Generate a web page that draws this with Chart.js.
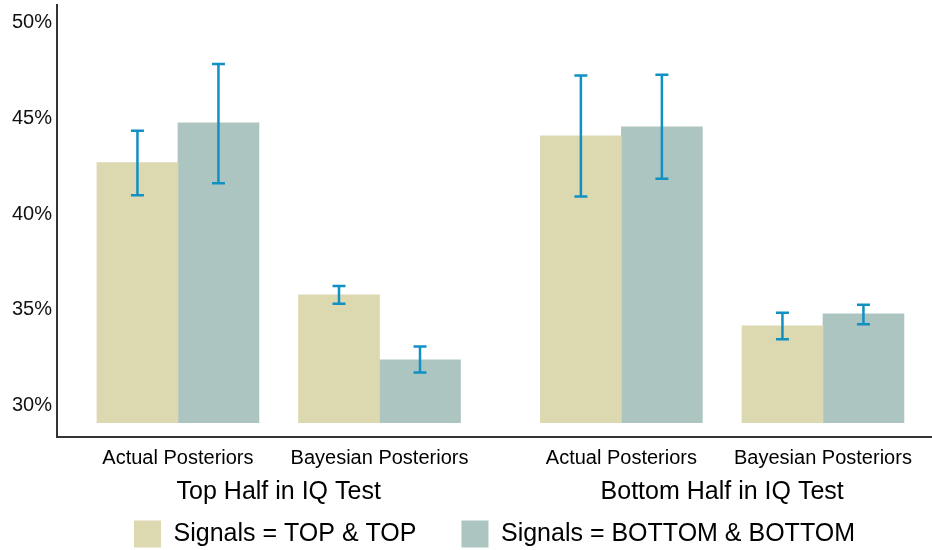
<!DOCTYPE html>
<html>
<head>
<meta charset="utf-8">
<script src="https://cdn.jsdelivr.net/npm/chart.js@4.4.1/dist/chart.umd.min.js"></script>
<style>
  html, body { margin: 0; padding: 0; background: #fff; }
  canvas { display: block; }
</style>
</head>
<body>
<canvas id="chart" width="932" height="550"></canvas>
<script>
// --- data (values in %) ---
const groups = ['Top Half in IQ Test', 'Bottom Half in IQ Test'];
const measures = ['Actual Posteriors', 'Bayesian Posteriors'];
const seriesNames = ['Signals = TOP & TOP', 'Signals = BOTTOM & BOTTOM'];

// order: Top/Actual, Top/Bayesian, Bottom/Actual, Bottom/Bayesian
const topTop = [42.70, 35.78, 44.10, 34.16];
const topTopLow = [40.99, 35.32, 40.92, 33.46];
const topTopHigh = [44.37, 36.25, 47.25, 34.85];

const bottomBottom = [44.78, 32.38, 44.57, 34.79];
const bottomBottomLow = [41.62, 31.72, 41.86, 34.25];
const bottomBottomHigh = [47.86, 33.08, 47.29, 35.27];

const yTicks = [30, 35, 40, 45, 50];
const barFloor = 29.1;

// --- x positions: two bars per measure, a little extra gap between groups ---
const groupGap = 0.2;
const xPos = [];
const tickLabels = [];
groups.forEach((g, gi) => {
  measures.forEach((m, mi) => {
    xPos.push(1 + gi * (measures.length + groupGap) + mi);
    tickLabels.push(m);
  });
});
const groupCenters = groups.map((g, gi) => {
  const pts = xPos.slice(gi * measures.length, (gi + 1) * measures.length);
  return (pts[0] + pts[pts.length - 1]) / 2;
});
const xMin = 0.4, xMax = 4.741;

const toPoints = vals => vals.map((v, i) => ({ x: xPos[i], y: v }));

// error bars, drawn through the y scale
const errorBars = {
  id: 'errorBars',
  afterDatasetsDraw(chart) {
    const ctx = chart.ctx;
    const y = chart.scales.y;
    ctx.save();
    ctx.strokeStyle = '#1190c4';
    ctx.lineWidth = 2.5;
    chart.data.datasets.forEach((ds, i) => {
      chart.getDatasetMeta(i).data.forEach((bar, j) => {
        const lo = y.getPixelForValue(ds.errLow[j]);
        const hi = y.getPixelForValue(ds.errHigh[j]);
        ctx.beginPath();
        ctx.moveTo(bar.x, lo); ctx.lineTo(bar.x, hi);
        ctx.moveTo(bar.x - 6.5, lo); ctx.lineTo(bar.x + 6.5, lo);
        ctx.moveTo(bar.x - 6.5, hi); ctx.lineTo(bar.x + 6.5, hi);
        ctx.stroke();
      });
    });
    ctx.restore();
  }
};

Chart.defaults.font.family = '"Liberation Sans", Arial, Helvetica, sans-serif';
Chart.defaults.color = '#000';

const ctx = document.getElementById('chart').getContext('2d');
new Chart(ctx, {
  type: 'bar',
  data: {
    datasets: [
      {
        label: seriesNames[0],
        data: toPoints(topTop),
        errLow: topTopLow,
        errHigh: topTopHigh,
        backgroundColor: '#dcd9b1',
        borderWidth: 0,
        base: barFloor,
        barThickness: 81
      },
      {
        label: seriesNames[1],
        data: toPoints(bottomBottom),
        errLow: bottomBottomLow,
        errHigh: bottomBottomHigh,
        backgroundColor: '#adc5c1',
        borderWidth: 0,
        base: barFloor,
        barThickness: 81
      }
    ]
  },
  options: {
    responsive: false,
    animation: false,
    devicePixelRatio: 1,
    layout: { padding: { top: 5, left: 0, right: 0, bottom: -7.5 } },
    plugins: {
      legend: {
        position: 'bottom',
        fullSize: false,
        labels: { boxWidth: 27, boxHeight: 27, padding: 45, color: '#000', font: { size: 25 } }
      },
      tooltip: { enabled: false }
    },
    scales: {
      x: {
        type: 'linear',
        offset: false,
        min: xMin, max: xMax,
        grid: { display: false, drawTicks: false },
        border: { display: true, color: '#333', width: 2 },
        afterBuildTicks: s => { s.ticks = xPos.map(v => ({ value: v })); },
        ticks: { autoSkip: false, maxRotation: 0, padding: 9, font: { size: 20 }, color: '#000',
                 callback: (v, i) => tickLabels[i] },
        afterFit: s => { s.height = 38.5; s.paddingLeft = 0; s.paddingRight = 0; }
      },
      // group names, placed under the legend box and mirrored back up
      xGroup: {
        type: 'linear',
        axis: 'x',
        position: 'bottom',
        weight: 2000,
        offset: false,
        min: xMin, max: xMax,
        grid: { display: false, drawTicks: false },
        border: { display: false },
        afterBuildTicks: s => { s.ticks = groupCenters.map(v => ({ value: v })); },
        ticks: { autoSkip: false, maxRotation: 0, mirror: true, padding: 50.5, font: { size: 25 }, color: '#000',
                 callback: (v, i) => groups[i] },
        afterFit: s => { s.height = 0; s.paddingLeft = 0; s.paddingRight = 0; }
      },
      y: {
        min: 28.35, max: 50.94,
        grid: { display: false, drawTicks: false },
        border: { display: true, color: '#333', width: 2 },
        afterBuildTicks: s => { s.ticks = yTicks.map(v => ({ value: v })); },
        ticks: { padding: 5, font: { size: 20 }, color: '#111', callback: v => v + '%' },
        afterFit: s => { s.width = 57; s.paddingTop = 0; s.paddingBottom = 0; }
      }
    }
  },
  plugins: [errorBars]
});
</script>
</body>
</html>
